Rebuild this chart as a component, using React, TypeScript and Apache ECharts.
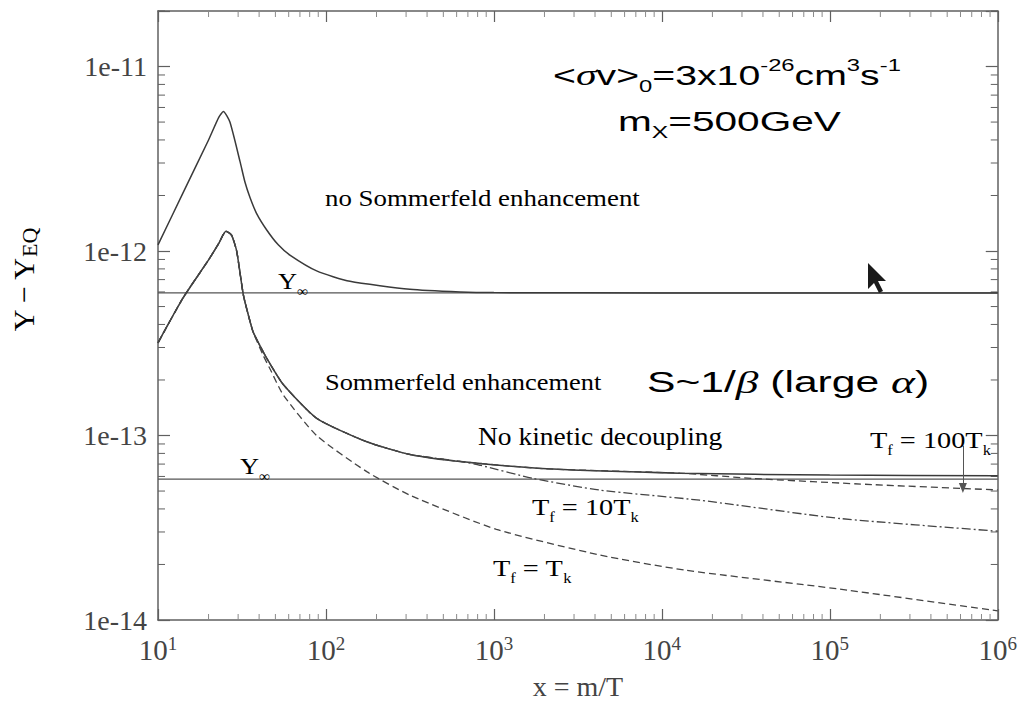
import React, { useEffect, useRef } from 'react';
import * as echarts from 'echarts';

// ---- axis ranges & ticks ----
const xMin = 10;
const xMax = 1e6;
const yMin = 1e-14;
const yMax = 2e-11;
const minorMultipliers = [2, 3, 4, 5, 6, 7, 8, 9];
const xDecades = [10, 100, 1000, 10000, 100000];
const yDecades = [1e-14, 1e-13, 1e-12, 1e-11];

// ---- no Sommerfeld enhancement ----
const noSomX = [10, 14, 20, 23, 24.5, 26.8, 30.8, 33, 35.3, 38.6, 44.4, 52, 61, 88, 139, 316, 630, 1000, 10000, 100000, 1000000];
const noSomY = [1.08e-12, 2.04e-12, 4.0e-12, 5.3e-12, 5.7e-12, 5.0e-12, 3.05e-12, 2.35e-12, 1.95e-12, 1.6e-12, 1.3e-12, 1.08e-12, 9.5e-13, 7.8e-13, 6.85e-13, 6.2e-13, 6.0e-13, 5.95e-13, 5.93e-13, 5.93e-13, 5.93e-13];

// ---- Sommerfeld enhancement: shared rise ----
const somRiseX = [10, 14.1, 20, 23, 25.4, 27.4, 29.4, 32.2, 34.5, 36.9];
const somRiseY = [3.18e-13, 5.57e-13, 8.95e-13, 1.1e-12, 1.28e-12, 1.22e-12, 1.0e-12, 5.8e-13, 4.5e-13, 3.63e-13];

// No kinetic decoupling
const nkdX = [42.3, 46.4, 55.7, 88, 175, 316, 656, 2060, 12800, 100000, 1000000];
const nkdY = [2.84e-13, 2.45e-13, 1.89e-13, 1.24e-13, 9.25e-14, 7.9e-14, 7.2e-14, 6.6e-14, 6.25e-14, 6.1e-14, 6.05e-14];

// T_f = 100 T_k (departs from NKD at large x)
const tf100X = [35000, 178000, 1000000];
const tf100Y = [5.85e-14, 5.42e-14, 5.07e-14];

// T_f = 10 T_k (departs from NKD near x ~ 700)
const tf10X = [826, 1706, 4270, 16800, 115000, 1000000];
const tf10Y = [6.9e-14, 5.86e-14, 5.06e-14, 4.46e-14, 3.55e-14, 3.03e-14];

// T_f = T_k
const tfkX = [42.3, 46.4, 55.7, 88, 175, 316, 1035, 4270, 13900, 115000, 1000000];
const tfkY = [2.72e-13, 2.3e-13, 1.66e-13, 1.0e-13, 6.37e-14, 4.75e-14, 3.1e-14, 2.25e-14, 1.86e-14, 1.47e-14, 1.12e-14];

// Y_infinity levels
const yInfUpper = 5.93e-13;
const yInfLower = 5.8e-14;

// arrow for T_f = 100 T_k
const arrowX = 6.2e5;
const arrowFromY = 8.8e-14;
const arrowToY = 5.2e-14;

const zip = (xs: number[], ys: number[]) => xs.map((x, i) => [x, ys[i]]);

const SERIF = 'Liberation Serif';
const SANS = 'Liberation Sans';
const CURVE = '#3a3a3a';
const AXIS = '#606060';
const TXT = '#4a4a4a';

function buildOption() {
  const rise = zip(somRiseX, somRiseY);
  const nkdData = [...rise, ...zip(nkdX, nkdY)];
  const tf100Data = [...rise, ...zip(nkdX, nkdY).filter((p) => p[0] < 20000), ...zip(tf100X, tf100Y)];
  const tf10Data = [...rise, ...zip(nkdX, nkdY).filter((p) => p[0] < 700), ...zip(tf10X, tf10Y)];
  const tfkData = [...rise, ...zip(tfkX, tfkY)];

  const xMinor: number[] = [];
  xDecades.forEach((d) => minorMultipliers.forEach((m) => xMinor.push(d * m)));
  const yMinor: number[] = [];
  yDecades.forEach((d) => minorMultipliers.forEach((m) => { if (d * m <= yMax) yMinor.push(d * m); }));

  const yLabel = (v: number) => {
    const l = Math.log10(v);
    const e = Math.round(l);
    if (Math.abs(l - e) > 1e-6) return '';
    return '1e' + e;
  };
  const xLabel = (v: number) => {
    const l = Math.log10(v);
    const e = Math.round(l);
    if (Math.abs(l - e) > 1e-6) return '';
    return '{b|10}{s|' + e + '}';
  };

  const lineSeries = (name: string, data: number[][], type: any, width = 1.4, color = CURVE) => ({
    name,
    type: 'line',
    data,
    showSymbol: false,
    symbol: 'none',
    smooth: 0.2,
    lineStyle: { color, width, type },
    z: 3,
  });

  const tRich = (size: number) => ({
    n: { fontFamily: SERIF, fontSize: size, color: TXT, lineHeight: size + 10 },
    s: { fontFamily: SERIF, fontSize: Math.round(size * 0.6), color: TXT, lineHeight: Math.round(size * 0.6) + 2, verticalAlign: 'bottom' },
  });

  const serifText = (text: string, x: number, y: number, size = 24, sx = 1.12) => ({
    type: 'text',
    x,
    y,
    scaleX: sx,
    z: 10,
    style: {
      text,
      rich: tRich(size),
      align: 'left',
      verticalAlign: 'middle',
      textAlign: 'left',
      textVerticalAlign: 'middle',
    },
  });

  const sansRich = {
    n: { fontFamily: SANS, fontSize: 28, color: '#333', lineHeight: 38 },
    g: { fontFamily: SERIF, fontStyle: 'italic', fontSize: 30, color: '#333', lineHeight: 38 },
    sub: { fontFamily: SANS, fontSize: 17, color: '#333', lineHeight: 20, verticalAlign: 'bottom' },
    sup: { fontFamily: SANS, fontSize: 17, color: '#333', lineHeight: 20, verticalAlign: 'top' },
  };

  const sRich = {
    n: { fontFamily: SANS, fontSize: 30, color: '#333', lineHeight: 40 },
    g: { fontFamily: SERIF, fontStyle: 'italic', fontSize: 32, color: '#333', lineHeight: 40 },
  };

  return {
    animation: false,
    backgroundColor: '#ffffff',
    grid: { left: 158, right: 22, top: 11, bottom: 82, containLabel: false },
    xAxis: [
      {
        type: 'log',
        min: xMin,
        max: xMax,
        logBase: 10,
        position: 'bottom',
        name: 'x = m/T',
        nameLocation: 'middle',
        nameGap: 52,
        nameTextStyle: { fontFamily: SERIF, fontSize: 28, color: '#444' },
        axisLine: { show: true, lineStyle: { color: AXIS, width: 1.5 } },
        axisTick: { show: true, inside: true, length: 11, lineStyle: { color: AXIS, width: 1.2 } },
        splitLine: { show: false },
        axisLabel: {
          formatter: xLabel,
          margin: 14,
          color: '#444',
          rich: {
            b: { fontFamily: SERIF, fontSize: 29, color: '#444', lineHeight: 32 },
            s: { fontFamily: SERIF, fontSize: 19, color: '#444', lineHeight: 20, verticalAlign: 'top' },
          },
        },
      },
      {
        type: 'log',
        min: xMin,
        max: xMax,
        logBase: 10,
        position: 'top',
        axisLine: { show: true, lineStyle: { color: AXIS, width: 1.5 } },
        axisTick: { show: true, inside: true, length: 11, lineStyle: { color: AXIS, width: 1.2 } },
        axisLabel: { show: false },
        splitLine: { show: false },
      },
    ],
    yAxis: [
      {
        type: 'log',
        min: yMin,
        max: yMax,
        logBase: 10,
        position: 'left',
        axisLine: { show: true, lineStyle: { color: AXIS, width: 1.5 } },
        axisTick: { show: true, inside: true, length: 12, lineStyle: { color: AXIS, width: 1.2 } },
        splitLine: { show: false },
        axisLabel: { formatter: yLabel, margin: 11, fontFamily: SERIF, fontSize: 28, color: '#444' },
      },
      {
        type: 'log',
        min: yMin,
        max: yMax,
        logBase: 10,
        position: 'right',
        axisLine: { show: true, lineStyle: { color: AXIS, width: 1.5 } },
        axisTick: { show: true, inside: true, length: 12, lineStyle: { color: AXIS, width: 1.2 } },
        axisLabel: { show: false },
        splitLine: { show: false },
      },
    ],
    series: [
      // minor ticks on y (left & right)
      {
        type: 'custom',
        silent: true,
        clip: false,
        z: 2,
        data: yMinor.map((v) => [xMin, v]),
        renderItem: (params: any, api: any) => {
          const cs = params.coordSys;
          const p = api.coord([api.value(0), api.value(1)]);
          const st = { stroke: AXIS, lineWidth: 1 };
          return {
            type: 'group',
            children: [
              { type: 'line', shape: { x1: cs.x, y1: p[1], x2: cs.x + 7, y2: p[1] }, style: st },
              { type: 'line', shape: { x1: cs.x + cs.width - 7, y1: p[1], x2: cs.x + cs.width, y2: p[1] }, style: st },
            ],
          };
        },
      },
      // minor ticks on x (bottom & top)
      {
        type: 'custom',
        silent: true,
        clip: false,
        z: 2,
        data: xMinor.map((v) => [v, yMin]),
        renderItem: (params: any, api: any) => {
          const cs = params.coordSys;
          const p = api.coord([api.value(0), api.value(1)]);
          const st = { stroke: '#8a8a8a', lineWidth: 1 };
          return {
            type: 'group',
            children: [
              { type: 'line', shape: { x1: p[0], y1: cs.y + cs.height, x2: p[0], y2: cs.y + cs.height - 6 }, style: st },
              { type: 'line', shape: { x1: p[0], y1: cs.y, x2: p[0], y2: cs.y + 6 }, style: st },
            ],
          };
        },
      },
      {
        name: 'Y_inf upper',
        type: 'line',
        data: [[xMin, yInfUpper], [xMax, yInfUpper]],
        symbol: 'none',
        lineStyle: { color: '#555', width: 1.2 },
        z: 2,
      },
      {
        name: 'Y_inf lower',
        type: 'line',
        data: [[xMin, yInfLower], [xMax, yInfLower]],
        symbol: 'none',
        lineStyle: { color: '#555', width: 1.2 },
        z: 2,
      },
      lineSeries('no Sommerfeld', zip(noSomX, noSomY), 'solid', 1.5),
      lineSeries('No kinetic decoupling', nkdData, 'solid', 1.5),
      {
        ...lineSeries('Tf = 100Tk', tf100Data, [7, 4], 1.3, '#444'),
        markLine: {
          silent: true,
          symbol: ['none', 'triangle'],
          symbolSize: [8, 10],
          label: { show: false },
          lineStyle: { color: '#555', width: 1, type: 'solid' },
          data: [[{ coord: [arrowX, arrowFromY] }, { coord: [arrowX, arrowToY] }]],
        },
      },
      lineSeries('Tf = 10Tk', tf10Data, [9, 3, 2, 3], 1.3, '#444'),
      lineSeries('Tf = Tk', tfkData, [7, 4], 1.3, '#444'),
    ],
    graphic: [
      // top-right annotations (sans)
      {
        type: 'text', x: 553, y: 75, scaleX: 1.4, z: 10,
        style: {
          text: '{n|<}{g|σ}{n|v>}{sub|0}{n|=3x10}{sup|-26}{n|cm}{sup|3}{n|s}{sup|-1}',
          rich: sansRich, align: 'left', verticalAlign: 'middle', textAlign: 'left', textVerticalAlign: 'middle',
        },
      },
      {
        type: 'text', x: 618, y: 121, scaleX: 1.45, z: 10,
        style: {
          text: '{n|m}{sub|X}{n|=500GeV}',
          rich: sansRich, align: 'left', verticalAlign: 'middle', textAlign: 'left', textVerticalAlign: 'middle',
        },
      },
      {
        type: 'text', x: 647, y: 382, scaleX: 1.42, z: 10,
        style: {
          text: '{n|S~1/}{g|β}{n| (large }{g|α}{n|)}',
          rich: sRich, align: 'left', verticalAlign: 'middle', textAlign: 'left', textVerticalAlign: 'middle',
        },
      },
      serifText('{n|no Sommerfeld enhancement}', 325, 198, 24, 1.12),
      serifText('{n|Sommerfeld enhancement}', 325, 382, 24, 1.1),
      serifText('{n|No kinetic decoupling}', 478, 437, 25, 1.1),
      serifText('{n|T}{s|f}{n| = 100T}{s|k}', 870, 440, 24, 1.18),
      serifText('{n|T}{s|f}{n| = 10T}{s|k}', 532, 507, 24, 1.18),
      serifText('{n|T}{s|f}{n| = T}{s|k}', 493, 568, 24, 1.18),
      serifText('{n|Y}{s|∞}', 278, 281, 24, 1.1),
      serifText('{n|Y}{s|∞}', 240, 466, 24, 1.1),
      // y-axis title
      {
        type: 'text', x: 40, y: 280, rotation: Math.PI / 2, z: 10,
        style: {
          text: '{m|Y − Y}{s|EQ}',
          rich: {
            m: { fontFamily: SERIF, fontSize: 30, color: '#444', lineHeight: 34 },
            s: { fontFamily: SERIF, fontSize: 22, color: '#444', lineHeight: 24, verticalAlign: 'bottom' },
          },
          align: 'center', verticalAlign: 'bottom', textAlign: 'center', textVerticalAlign: 'bottom',
        },
      },
      // mouse cursor captured in the original picture
      {
        type: 'polygon', z: 20,
        shape: { points: [[868, 263], [868, 289], [874, 283], [879, 293], [883, 291], [878, 281], [886, 281]] },
        style: { fill: '#1a1a1a' },
      },
    ],
  };
}

export default function App() {
  const ref = useRef<HTMLDivElement>(null);
  useEffect(() => {
    const chart = echarts.init(ref.current!, null, { renderer: 'svg' });
    chart.setOption(buildOption() as any);
    return () => chart.dispose();
  }, []);
  return (
    <div
      ref={ref}
      style={{ position: 'fixed', left: 0, top: 0, width: 1020, height: 705, background: '#ffffff' }}
    />
  );
}
